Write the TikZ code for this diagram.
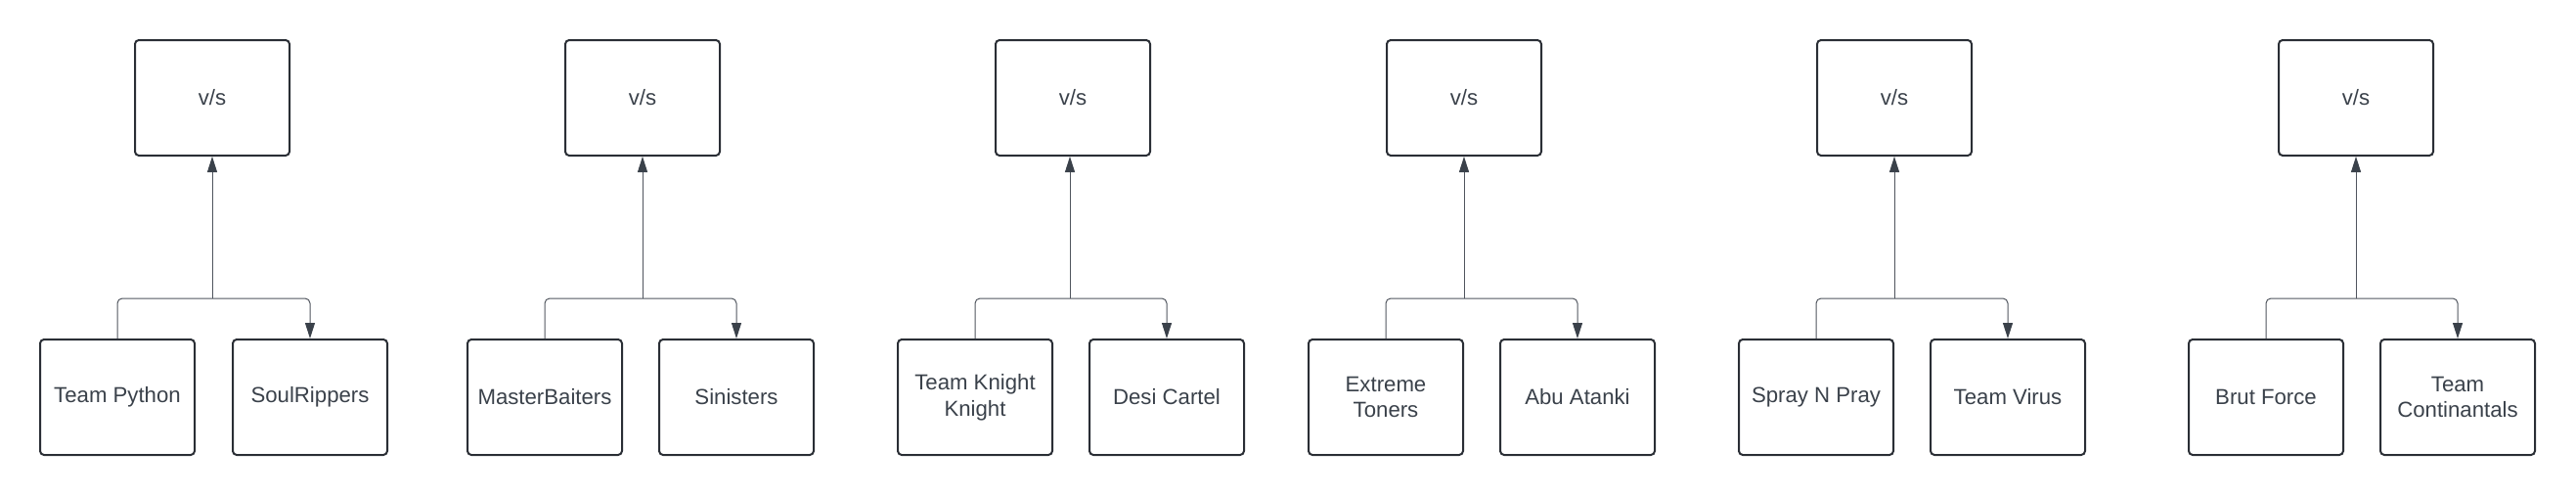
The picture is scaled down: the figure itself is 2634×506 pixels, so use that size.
\documentclass[tikz,border=0pt]{standalone}
\usepackage{fontspec}
\setmainfont{Liberation Sans}
\usetikzlibrary{arrows.meta,calc}
\definecolor{boxc}{HTML}{2A2E35}
\definecolor{txtc}{HTML}{3A414A}
\definecolor{linec}{HTML}{50555E}
\definecolor{tipc}{HTML}{3A414A}
\tikzset{
  teambox/.style={draw=boxc, line width=2pt, rounded corners=4pt,
    minimum width=158pt, minimum height=118pt, inner sep=2pt,
    text=txtc, align=center, font=\fontsize{22.2pt}{26.7pt}\selectfont},
  conn/.style={draw=linec, line width=1pt, rounded corners=5pt,
    -{Triangle[length=16pt,width=10pt,fill=tipc,color=tipc]}},
}
\begin{document}
\begin{tikzpicture}[x=1pt,y=1pt]
\path[use as bounding box] (0,0) rectangle (2634,-506);

% group 1
\node[teambox] (T1) at (217,-100) {v/s};
\node[teambox] (L1) at (120,-406) {Team Python};
\node[teambox] (R1) at (317,-406) {SoulRippers};
% group 2
\node[teambox] (T2) at (657,-100) {v/s};
\node[teambox] (L2) at (557,-406) {MasterBaiters};
\node[teambox] (R2) at (753,-406) {Sinisters};
% group 3
\node[teambox] (T3) at (1097,-100) {v/s};
\node[teambox] (L3) at (997,-406) {Team Knight\\Knight};
\node[teambox] (R3) at (1193,-406) {Desi Cartel};
% group 4
\node[teambox] (T4) at (1497,-100) {v/s};
\node[teambox] (L4) at (1417,-406) {Extreme\\Toners};
\node[teambox] (R4) at (1613,-406) {Abu Atanki};
% group 5
\node[teambox] (T5) at (1937,-100) {v/s};
\node[teambox] (L5) at (1857,-406) {Spray N Pray};
\node[teambox] (R5) at (2053,-406) {Team Virus};
% group 6
\node[teambox] (T6) at (2409,-100) {v/s};
\node[teambox] (L6) at (2317,-406) {Brut Force};
\node[teambox] (R6) at (2513,-406) {Team\\Continantals};

% junction points on the bar
\coordinate (J1) at (217,-305);
\coordinate (J2) at (657,-305);
\coordinate (J3) at (1094,-305);
\coordinate (J4) at (1497,-305);
\coordinate (J5) at (1937,-305);
\coordinate (J6) at (2409,-305);

\foreach \i in {1,...,6}{
  \draw[conn] (L\i.north) |- (J\i) -| (R\i.north);
  \draw[conn] (J\i) -- (J\i |- T\i.south);
}
\end{tikzpicture}
\end{document}
